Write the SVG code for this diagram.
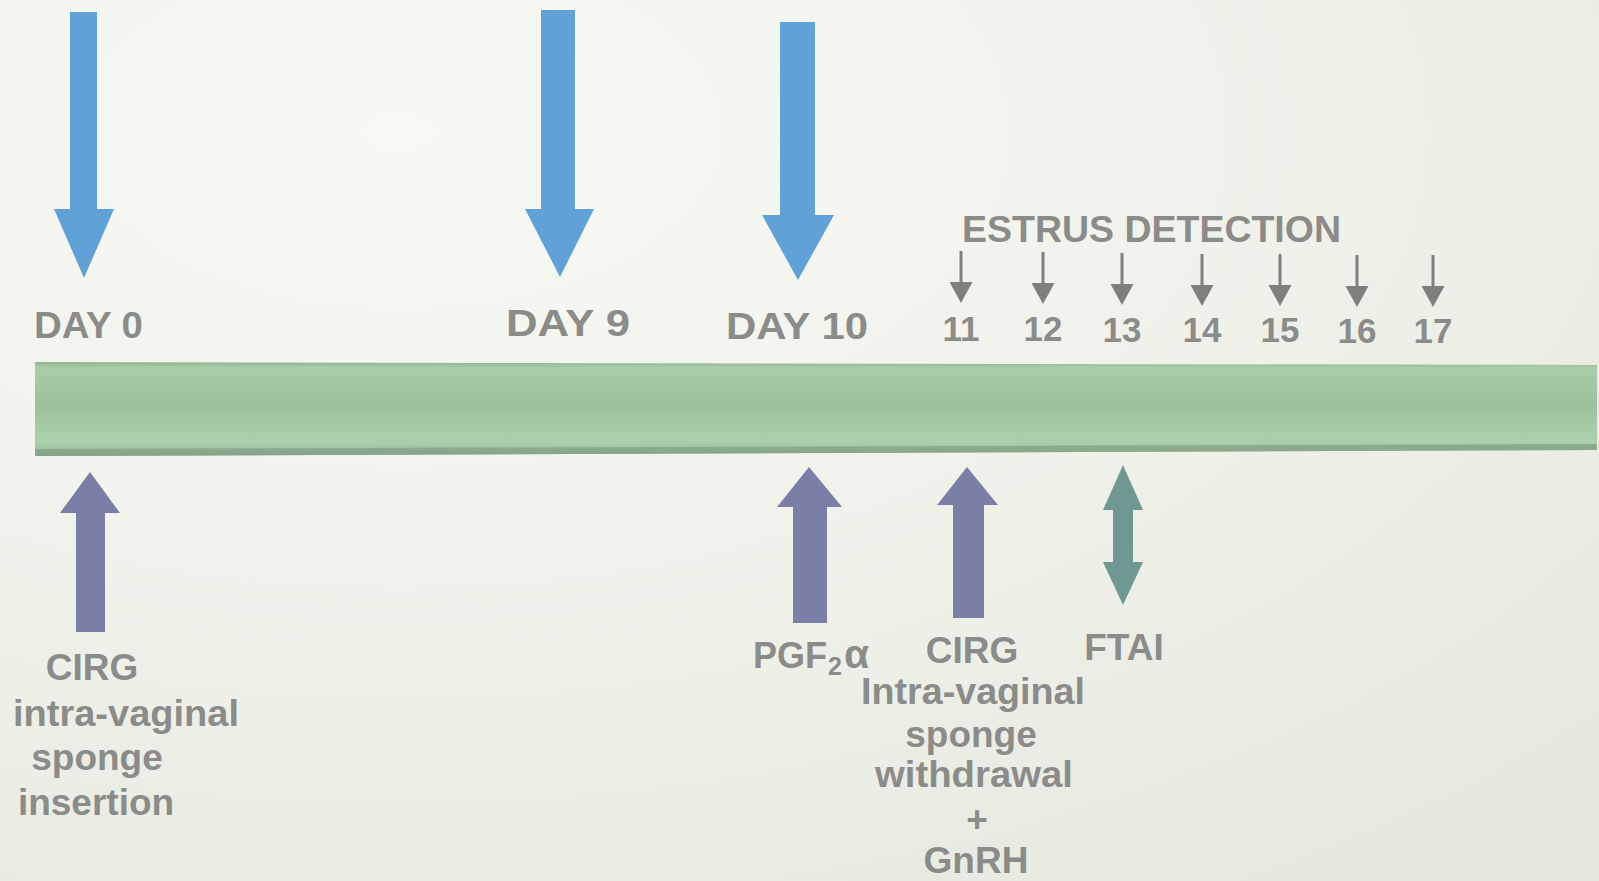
<svg xmlns="http://www.w3.org/2000/svg" width="1599" height="881" viewBox="0 0 1599 881">
<defs>
<radialGradient id="bg" cx="0.25" cy="0.15" r="1.1">
<stop offset="0" stop-color="#f8f9f4"/>
<stop offset="0.55" stop-color="#eff1e9"/>
<stop offset="1" stop-color="#e4e7dd"/>
</radialGradient>
<linearGradient id="barg" x1="0" y1="0" x2="0" y2="1">
<stop offset="0" stop-color="#8fb391"/>
<stop offset="0.06" stop-color="#a9cca9"/>
<stop offset="0.45" stop-color="#9ec09d"/>
<stop offset="0.85" stop-color="#acd0ad"/>
<stop offset="0.93" stop-color="#9fc2a0"/>
<stop offset="1" stop-color="#7f9d81"/>
</linearGradient>
<g id="sa">
<line x1="0" y1="0" x2="0" y2="34" stroke="#7f807e" stroke-width="3"/>
<polygon points="-11.5,31 11.5,31 0,52" fill="#7f807e"/>
</g>
<style>
.t{font-family:"Liberation Sans",Arial,sans-serif;font-weight:bold;fill:#8b8c8a;}
.day{font-size:36px;}
.num{font-size:35px;text-anchor:middle;}
.lab{font-size:37px;text-anchor:middle;}
.blue{fill:#60a2d8;}
.purp{fill:#7b7ea6;}
.teal{fill:#6f9892;}
</style>
</defs>
<rect x="0" y="0" width="1599" height="881" fill="url(#bg)"/>

<g id="timeline">
<polygon points="35,362 1597,365 1597,450 35,456" fill="url(#barg)"/>
<polygon points="35,449 1597,444 1597,450 35,456" fill="#86a488" opacity="0.8"/>
</g>

<g id="day0">
<polygon class="blue" points="70,12 97,12 97,209 114,209 84,278 54,209 70,209"/>
<text class="t day" x="34" y="338" textLength="109" lengthAdjust="spacingAndGlyphs">DAY 0</text>
</g>

<g id="day9">
<polygon class="blue" points="541,10 575,10 575,209 594,209 560,277 525,209 541,209"/>
<text class="t day" x="506" y="336" textLength="124" lengthAdjust="spacingAndGlyphs">DAY 9</text>
</g>

<g id="day10">
<polygon class="blue" points="780,22 815,22 815,215 834,215 798,280 762,215 780,215"/>
<text class="t day" x="726" y="339" textLength="142" lengthAdjust="spacingAndGlyphs">DAY 10</text>
</g>

<g id="estrus">
<text class="t" x="962" y="242" font-size="36" textLength="379" lengthAdjust="spacingAndGlyphs">ESTRUS DETECTION</text>
</g>

<g id="connectors">
<use href="#sa" x="961" y="251"/>
<use href="#sa" x="1043" y="252"/>
<use href="#sa" x="1122" y="253"/>
<use href="#sa" x="1202" y="254"/>
<use href="#sa" x="1280" y="254"/>
<use href="#sa" x="1357" y="255"/>
<use href="#sa" x="1433" y="255"/>
</g>

<g id="days11-17">
<text class="t num" x="961" y="341">11</text>
<text class="t num" x="1043" y="341">12</text>
<text class="t num" x="1122" y="342">13</text>
<text class="t num" x="1202" y="342">14</text>
<text class="t num" x="1280" y="342">15</text>
<text class="t num" x="1357" y="343">16</text>
<text class="t num" x="1433" y="343">17</text>
</g>

<g id="insertion">
<polygon class="purp" points="90,472 120,513 105,513 105,632 76,632 76,513 60,513"/>
<text class="t lab" x="92" y="680">CIRG</text>
<text class="t lab" x="126" y="726" textLength="226" lengthAdjust="spacingAndGlyphs">intra-vaginal</text>
<text class="t lab" x="97" y="770">sponge</text>
<text class="t lab" x="96" y="815">insertion</text>
</g>

<g id="pgf">
<polygon class="purp" points="809,467 842,507 827,507 827,623 793,623 793,507 777,507"/>
<text class="t" x="753" y="668" font-size="36">PGF<tspan font-size="25" dx="1" dy="7">2</tspan><tspan dx="2" dy="-7" font-size="41">α</tspan></text>
</g>

<g id="withdrawal">
<polygon class="purp" points="967,467 998,505 984,505 984,618 953,618 953,505 937,505"/>
<text class="t lab" x="972" y="663">CIRG</text>
<text class="t lab" x="973" y="704" textLength="224" lengthAdjust="spacingAndGlyphs">Intra-vaginal</text>
<text class="t lab" x="971" y="747">sponge</text>
<text class="t lab" x="974" y="787" textLength="198" lengthAdjust="spacingAndGlyphs">withdrawal</text>
<text class="t lab" x="977" y="832" font-size="30" font-weight="normal">+</text>
<text class="t lab" x="976" y="873">GnRH</text>
</g>

<g id="ftai">
<polygon class="teal" points="1123,465 1143,510 1133,510 1133,562 1143,562 1123,605 1103,562 1113,562 1113,510 1103,510"/>
<text class="t lab" x="1124" y="660">FTAI</text>
</g>
</svg>
